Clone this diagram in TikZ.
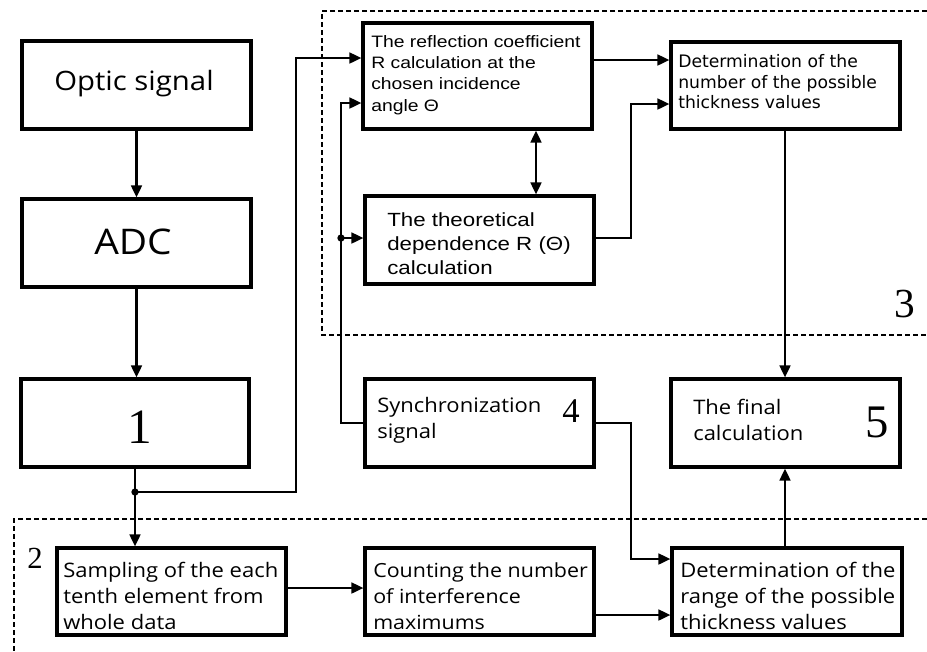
\documentclass[tikz,border=0pt]{standalone}
\usepackage{fontspec}
\usetikzlibrary{arrows.meta,fit}
\newfontfamily\arialf[FakeStretch=1.17]{Liberation Sans}
\newfontfamily\verdf{DejaVu Sans}
\newfontfamily\openf[FakeStretch=1.1]{Open Sans}
\newfontfamily\serf{Liberation Serif}
\tikzset{
  box/.style={draw, line width=2.3pt, inner sep=0pt, fill=white},
  lbl/.style={anchor=north west, inner sep=0pt, align=left},
  ctr/.style={anchor=center, inner sep=0pt},
  arr/.style={line width=1.9pt, -{Triangle[length=9pt,width=8pt]}},
  darr/.style={line width=1.9pt, {Triangle[length=9pt,width=8pt]}-{Triangle[length=9pt,width=8pt]}},
  plain/.style={line width=1.9pt},
  dashbox/.style={line width=1.9pt, dash pattern=on 3.75pt off 2.25pt},
  num/.style={anchor=base, inner sep=0pt, font=\serf},
  jdot/.style={circle, fill, inner sep=0pt, minimum size=5.5pt}
}
\begin{document}
\begin{tikzpicture}[x=0.75pt,y=-0.75pt]
\useasboundingbox (0,0) rectangle (927,651);
% dashed groups
\draw[dashbox] (927,11) -- (322,11) -- (322,335) -- (927,335);
\draw[dashbox] (927,519) -- (14,519) -- (14,651);
% helper coordinates
\coordinate (dot) at (135,492);
\coordinate (dot2) at (341,238);
\coordinate (k1) at (296,58);
\coordinate (k2) at (341,103);
\coordinate (k4) at (631,104);
\coordinate (k5) at (631,559);
\coordinate (m) at (536,0);
\coordinate (xc) at (785,0);
\coordinate (y60) at (0,60);
\coordinate (y588) at (0,588);
\coordinate (y615) at (0,615);
% boxes
\node[box, fit={(22,41) (251,129)}] (opt) {};
\node[box, fit={(22,199) (251,287)}] (adc) {};
\node[box, fit={(21,379) (249,467)}] (one) {};
\node[box, fit={(363,23) (592,129)}] (refl) {};
\node[box, fit={(365,196) (594,284)}] (theo) {};
\node[box, fit={(671,42) (900,129)}] (detn) {};
\node[box, fit={(365,379) (594,467)}] (sync) {};
\node[box, fit={(671,379) (900,467)}] (fin) {};
\node[box, fit={(57,548) (286,635)}] (samp) {};
\node[box, fit={(365,548) (594,635)}] (cnt) {};
\node[box, fit={(672,548) (902,635)}] (rng) {};
% texts
\node[ctr, font=\openf\fontsize{20pt}{24pt}\selectfont] (optt) at (134,84) {Optic signal};
\node[ctr, font=\openf\fontsize{26.5pt}{30pt}\selectfont] (adct) at (133,242) {ADC};
\node[lbl, font=\arialf\fontsize{12.4pt}{16pt}\selectfont] (reflt) at (371,35) {The reflection coefficient\\R calculation at the\\chosen incidence\\angle Θ};
\node[lbl, font=\arialf\fontsize{14.3pt}{18pt}\selectfont] (theot) at (387,212) {The theoretical\\dependence R (Θ)\\calculation};
\node[lbl, font=\verdf\fontsize{12.9pt}{15.6pt}\selectfont] (detnt) at (678,54) {Determination of the\\number of the possible\\thickness values};
\node[lbl, font=\openf\fontsize{15pt}{19.5pt}\selectfont] (sampt) at (63,562) {Sampling of the each\\tenth element from\\whole data};
\node[lbl, font=\openf\fontsize{14.6pt}{19.5pt}\selectfont] (cntt) at (373,562) {Counting the number\\of interference\\maximums};
\node[lbl, font=\openf\fontsize{15pt}{19.5pt}\selectfont] (rngt) at (680,562) {Determination of the\\range of the possible\\thickness values};
\node[lbl, font=\openf\fontsize{15pt}{19.5pt}\selectfont] (synct) at (377,397) {Synchronization\\signal};
\node[lbl, font=\openf\fontsize{15pt}{19.5pt}\selectfont] (fint) at (693,399) {The final\\calculation};
% numbers
\node[num, font=\serf\fontsize{37pt}{40pt}\selectfont] (n1) at (140,443) {1};
\node[num, font=\serf\fontsize{23pt}{26pt}\selectfont] (n2) at (35,568) {2};
\node[num, font=\serf\fontsize{31pt}{34pt}\selectfont] (n3) at (905,317) {3};
\node[num, font=\serf\fontsize{26pt}{29pt}\selectfont] (n4) at (571,422) {4};
\node[num, font=\serf\fontsize{35pt}{38pt}\selectfont] (n5) at (877,437) {5};
% connectors
\draw[arr] (opt.south) -- (adc.north);
\draw[arr] (adc.south) -- (adc.south |- one.north);
\draw[plain] (one.south -| dot) -- (dot);
\draw[arr] (dot) -- (dot |- samp.north);
\draw[arr] (dot) -| (k1) -- (k1 -| refl.west);
\draw[arr] (sync.west) -| (k2) -- (k2 -| refl.west);
\draw[arr] (dot2) -- (dot2 -| theo.west);
\draw[darr] (refl.south -| m) -- (theo.north -| m);
\draw[arr] (refl.east |- y60) -- (detn.west |- y60);
\draw[arr] (theo.east |- dot2) -| (k4) -- (k4 -| detn.west);
\draw[arr] (detn.south -| xc) -- (fin.north -| xc);
\draw[arr] (sync.east) -| (k5) -- (k5 -| rng.west);
\draw[arr] (rng.north -| xc) -- (fin.south -| xc);
\draw[arr] (samp.east |- y588) -- (cnt.west |- y588);
\draw[arr] (cnt.east |- y615) -- (rng.west |- y615);
% junction dots
\node[jdot] (j1) at (dot) {};
\node[jdot] (j2) at (dot2) {};
\end{tikzpicture}
\end{document}
